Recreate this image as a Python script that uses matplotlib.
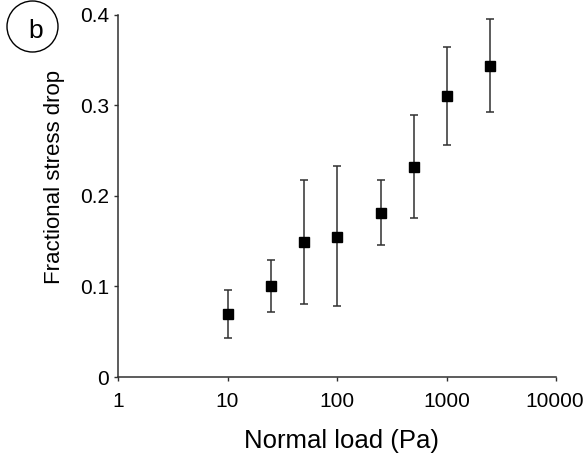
import numpy as np
import matplotlib
matplotlib.use("Agg")
import matplotlib.pyplot as plt
from matplotlib.patches import Ellipse

plt.rcParams["font.family"] = ["Liberation Sans", "DejaVu Sans"]

# ------------------------------
# Data
# ------------------------------
normal_load = [10, 25, 50, 100, 250, 500, 1000, 2500]
stress_drop = [0.070, 0.100, 0.149, 0.155, 0.181, 0.232, 0.311, 0.344]
err_upper = [0.0965, 0.1296, 0.2177, 0.233, 0.218, 0.289, 0.365, 0.396]
err_lower = [0.0434, 0.0718, 0.0807, 0.0785, 0.146, 0.176, 0.256, 0.2925]

y_ticks = [0, 0.1, 0.2, 0.3, 0.4]
y_tick_labels = ["0", "0.1", "0.2", "0.3", "0.4"]
x_ticks = [1, 10, 100, 1000, 10000]
x_tick_labels = ["1", "10", "100", "1000", "10000"]

yerr = np.array([
    np.array(stress_drop) - np.array(err_lower),
    np.array(err_upper) - np.array(stress_drop),
])

# ------------------------------
# Plot
# ------------------------------
fig = plt.figure(figsize=(5.86, 4.54), dpi=100)
ax = fig.add_axes([0.2014, 0.1696, 0.7474, 0.7974])

ax.errorbar(normal_load, stress_drop, yerr=yerr, fmt="s", color="black",
            ecolor="#303030", elinewidth=1.1, capsize=2.9, capthick=1.1,
            markersize=6.8)

ax.set_xscale("log")
ax.set_xlim(1, 10000)
ax.set_ylim(0, 0.4)
ax.set_xticks(x_ticks)
ax.set_xticklabels(x_tick_labels, fontsize=15)
ax.xaxis.set_minor_locator(matplotlib.ticker.NullLocator())
ax.set_yticks(y_ticks)
ax.set_yticklabels(y_tick_labels, fontsize=15)

for side in ["top", "right"]:
    ax.spines[side].set_visible(False)
for side in ["left", "bottom"]:
    ax.spines[side].set_color("#303030")
    ax.spines[side].set_linewidth(1.1)

ax.tick_params(direction="out", length=3, width=1.0, color="#303030")
ax.tick_params(axis="x", pad=8)
ax.tick_params(axis="y", pad=3.4)

# the rightmost tick label is pulled left so it stays inside the figure
lbl = ax.get_xticklabels()[-1]
lbl.set_horizontalalignment("right")
lbl.set_transform(lbl.get_transform() + matplotlib.transforms.ScaledTranslation(28 / 100, 0, fig.dpi_scale_trans))

ax.set_xlabel("Normal load (Pa)", fontsize=18.5)
ax.xaxis.set_label_coords(0.510, -0.1436)
ax.set_ylabel("Fractional stress drop", fontsize=16)
ax.yaxis.set_label_coords(-0.121, 0.5525)

# panel label "b" in a circle
fig.patches.append(Ellipse((32.5 / 586, 1 - 26.5 / 454), 51 / 586, 51 / 454,
                           transform=fig.transFigure, fill=False,
                           edgecolor="black", linewidth=1.0))
fig.text(35.5 / 586, 1 - 37.5 / 454, "b", fontsize=19, ha="center", va="baseline")

fig.savefig("out.png", dpi=100)
